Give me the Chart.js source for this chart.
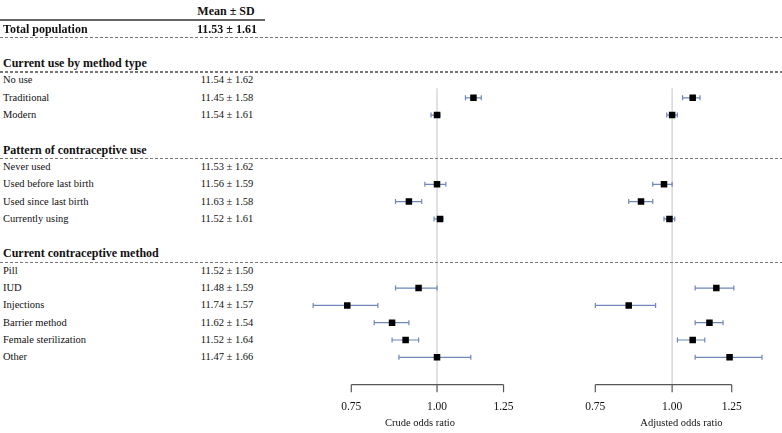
<!DOCTYPE html>
<html><head><meta charset="utf-8">
<script src="https://cdn.jsdelivr.net/npm/chart.js@4.4.0/dist/chart.umd.min.js"></script>
<style>
html,body{margin:0;padding:0;background:#fff;}
#wrap{position:relative;width:782px;height:433px;overflow:hidden;color:#111;background:#fff;}
canvas{position:absolute;top:0;}
.t{position:absolute;white-space:nowrap;line-height:14px;height:14px;font-family:'Liberation Serif','Tinos','Times New Roman','Nimbus Roman','DejaVu Serif','Noto Serif',serif;}
.row{font-size:10.5px;}
.b{font-weight:bold;font-size:12px;}
.val{text-align:center;width:120px;}
.dash{position:absolute;left:0;width:782px;height:1.3px;background:repeating-linear-gradient(to right,#777 0 3px,transparent 3px 5px);}
.solid{position:absolute;left:0;width:265px;height:1.5px;background:#666;}
</style></head>
<body><div id="wrap"><canvas id="c1" width="240" height="433" style="left:300px"></canvas><canvas id="c2" width="212" height="433" style="left:570px"></canvas></div>
<script>
// ---- data ----
const categories = ["No use","Traditional","Modern","Never used","Used before last birth","Used since last birth","Currently using","Pill","IUD","Injections","Barrier method","Female sterilization","Other"];
const rowIndex = [0,1,2,5,6,7,8,11,12,13,14,15,16];
const meanSD = ["11.54 ± 1.62","11.45 ± 1.58","11.54 ± 1.61","11.53 ± 1.62","11.56 ± 1.59","11.63 ± 1.58","11.52 ± 1.61","11.52 ± 1.50","11.48 ± 1.59","11.74 ± 1.57","11.62 ± 1.54","11.52 ± 1.64","11.47 ± 1.66"];
const crudeOR = [null,1.13,1.00,null,1.00,0.91,1.01,null,0.94,0.74,0.86,0.90,1.00];
const crudeLo = [null,1.10,0.98,null,0.96,0.87,0.99,null,0.87,0.66,0.81,0.86,0.88];
const crudeHi = [null,1.16,1.01,null,1.03,0.95,1.02,null,1.00,0.82,0.91,0.94,1.12];
const adjOR = [null,1.08,1.00,null,0.97,0.89,0.99,null,1.18,0.85,1.15,1.08,1.24];
const adjLo = [null,1.04,0.98,null,0.93,0.85,0.97,null,1.09,0.75,1.09,1.02,1.09];
const adjHi = [null,1.11,1.02,null,1.00,0.93,1.01,null,1.26,0.94,1.21,1.13,1.40];
const groupTitles = ["Current use by method type","Pattern of contraceptive use","Current contraceptive method"];
const groupRows = [-1,4,10];
const tickValues = [0.75,1.00,1.25];
const headerLabel = "Mean ± SD";
const totalLabel = "Total population";
const totalValue = "11.53 ± 1.61";

const FONT = "'Liberation Serif','Tinos','Times New Roman','DejaVu Serif',serif";

const forestPlugin = {
  id:'forest',
  beforeDatasetsDraw(chart, args, opts){
    const {ctx, chartArea} = chart;
    const x = chart.scales.x, y = chart.scales.y;
    ctx.save();
    const x1 = x.getPixelForValue(1);
    ctx.strokeStyle = '#dadada'; ctx.lineWidth = 1.6;
    ctx.beginPath(); ctx.moveTo(x1, y.getPixelForValue(0.45)); ctx.lineTo(x1, chartArea.bottom); ctx.stroke();
    ctx.strokeStyle = '#6f87ba'; ctx.lineWidth = 1.2;
    opts.lo.forEach((l,i)=>{
      if(l==null) return;
      const yy = y.getPixelForValue(rowIndex[i]);
      const a = x.getPixelForValue(l), b = x.getPixelForValue(opts.hi[i]);
      ctx.beginPath();
      ctx.moveTo(a,yy); ctx.lineTo(b,yy);
      ctx.moveTo(a,yy-2.5); ctx.lineTo(a,yy+2.5);
      ctx.moveTo(b,yy-2.5); ctx.lineTo(b,yy+2.5);
      ctx.stroke();
    });
    ctx.strokeStyle = '#555'; ctx.lineWidth = 1.2;
    const by = chartArea.bottom;
    const xa = x.getPixelForValue(tickValues[0]), xb = x.getPixelForValue(tickValues[tickValues.length-1]);
    ctx.beginPath(); ctx.moveTo(xa,by); ctx.lineTo(xb,by);
    tickValues.forEach(v=>{ const p=x.getPixelForValue(v); ctx.moveTo(p,by); ctx.lineTo(p,by+7.5); });
    ctx.stroke();
    ctx.restore();
  }
};

function makeChart(id, or, lo, hi, min, max, title){
  const pts = [];
  or.forEach((v,i)=>{ if(v!=null) pts.push({x:v, y:rowIndex[i]}); });
  return new Chart(document.getElementById(id), {
    type:'scatter',
    data:{datasets:[{data:pts, pointStyle:'rect', pointRadius:4.6, backgroundColor:'#000', borderColor:'#000', borderWidth:0, pointHoverRadius:4.6}]},
    options:{
      responsive:false, animation:false,
      layout:{padding:0},
      plugins:{legend:{display:false}, tooltip:{enabled:false}, forest:{lo:lo, hi:hi}},
      scales:{
        x:{type:'logarithmic', position:'bottom', min:min, max:max,
           grid:{display:false, drawTicks:false}, border:{display:false},
           afterBuildTicks:s=>{ s.ticks = tickValues.map(v=>({value:v})); },
           afterFit:s=>{ s.height = 48.3; },
           ticks:{autoSkip:false, maxRotation:0, padding:15, color:'#111', font:{family:FONT, size:11.5}, callback:v=>Number(v).toFixed(2)},
           title:{display:true, text:title, color:'#111', font:{family:FONT, size:10.5}, padding:{top:4,bottom:3}}
        },
        y:{type:'linear', display:false, reverse:true, min:-4.386, max:17.585}
      }
    },
    plugins:[forestPlugin]
  });
}

const ch1 = makeChart('c1', crudeOR, crudeLo, crudeHi, 0.6413, 1.391, 'Crude odds ratio');
const ch2 = makeChart('c2', adjOR, adjLo, adjHi, 0.7229, 1.4832, 'Adjusted odds ratio');

const wrap = document.getElementById('wrap');
const ys = ch1.scales.y;
function addText(txt, cls, left, idx){
  const d = document.createElement('div');
  d.className = 't ' + cls; d.textContent = txt;
  d.style.left = left + 'px';
  d.style.top = (ys.getPixelForValue(idx) - 7) + 'px';
  wrap.appendChild(d);
}
function addLine(cls, idx){
  const d = document.createElement('div');
  d.className = cls;
  d.style.top = (ys.getPixelForValue(idx) - 0.6) + 'px';
  wrap.appendChild(d);
}
addText(headerLabel, 'b val', 166, -4);
addLine('solid', -3.5);
addText(totalLabel, 'b', 3, -3);
addText(totalValue, 'b val', 167, -3);
addLine('dash', -2.5);
groupTitles.forEach((g,i)=>{ addText(g, 'b', 3, groupRows[i]); addLine('dash', groupRows[i]+0.5); });
categories.forEach((c,i)=>{ addText(c, 'row', 3, rowIndex[i]); addText(meanSD[i], 'row val', 167, rowIndex[i]); });
</script>
</body></html>
